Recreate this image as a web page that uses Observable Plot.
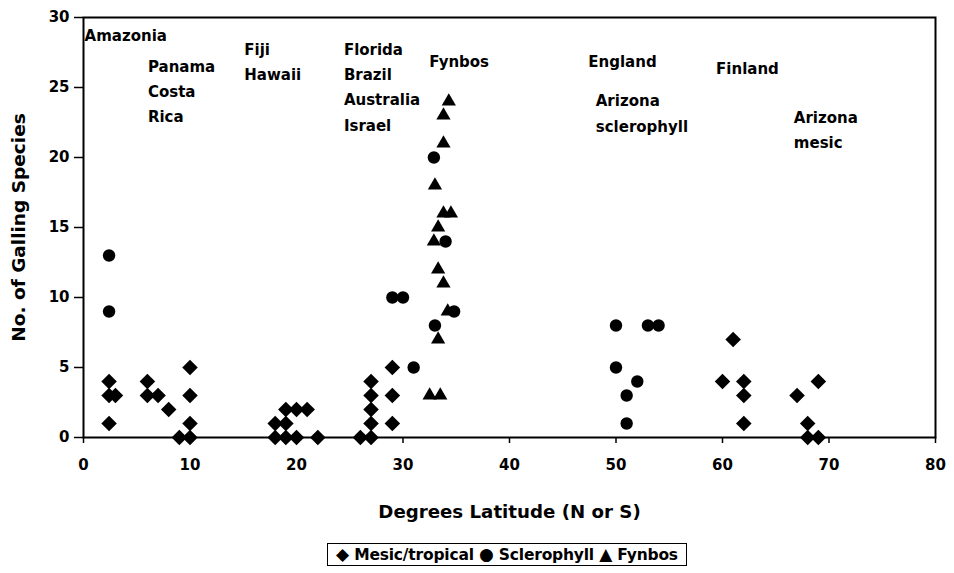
<!DOCTYPE html>
<html>
<head>
<meta charset="utf-8">
<script src="https://cdn.jsdelivr.net/npm/d3@7"></script>
<script src="https://cdn.jsdelivr.net/npm/@observablehq/plot@0.6"></script>
<style>
  body { margin: 0; background: #fff; }
  #legend {
    box-sizing: border-box;
    width: 360px; height: 23px; margin: 13px 0 0 327px;
    border: 1px solid #000; text-align: center; line-height: 21px;
    font: bold 15.5px "DejaVu Sans", sans-serif; color: #000; white-space: nowrap;
    letter-spacing: -0.2px;
  }
  #legend .sym { font-size: 17px; }
</style>
</head>
<body>
<div id="chart"></div>
<div id="legend"></div>
<script>
// Mesic/tropical (diamonds)
const mesicLat = [2.4,2.4,3,2.4,6,6,7,8,9,10,10,10,10,18,19,19,20,21,18,19,20,22,26,27,27,27,27,27,29,29,29,61,60,62,62,62,67,69,68,68,69];
const mesicN   = [4,3,3,1,4,3,3,2,0,0,5,3,1,1,1,2,2,2,0,0,0,0,0,0,1,2,3,4,5,3,1,7,4,4,3,1,3,4,1,0,0];
// Sclerophyll (circles)
const sclLat = [2.4,2.4,29,30,31,33,34.8,32.9,34,50,53,54,50,52,51,51];
const sclN   = [13,9,10,10,5,8,9,20,14,8,8,8,5,4,3,1];
// Fynbos (triangles)
const fynLat = [34.3,33.8,33.8,33,33.8,34.5,33.3,32.9,33.3,33.8,34.2,33.3,32.5,33.5];
const fynN   = [24,23,21,18,16,16,15,14,12,11,9,7,3,3];
// Region annotations (one entry per text line)
const labelText = ["Amazonia","Panama","Costa","Rica","Fiji","Hawaii","Florida","Brazil","Australia","Israel","Fynbos","England","Arizona","sclerophyll","Finland","Arizona","mesic"];
const labelLat  = [0.1,6.05,6.05,6.05,15.1,15.1,24.45,24.45,24.45,24.45,32.46,47.4,48.1,48.1,59.4,66.7,66.7];
const labelN    = [28.7,26.43,24.64,22.86,27.67,25.9,27.7,25.9,24.1,22.26,26.8,26.8,24.05,22.2,26.3,22.8,21.0];
// Axes
const xTicks = [0,10,20,30,40,50,60,70,80];
const yTicks = [0,5,10,15,20,25,30];
const xTitle = "Degrees Latitude (N or S)";
const yTitle = "No. of Galling Species";
const legendSymbols = ["◆","●","▲"];
const legendNames = ["Mesic/tropical","Sclerophyll","Fynbos"];

const toRows = (xs, ys) => xs.map((x, i) => ({x, y: ys[i]}));
const mesic = toRows(mesicLat, mesicN);
const scl = toRows(sclLat, sclN);
const fyn = toRows(fynLat, fynN);
const labels = labelText.map((t, i) => ({t, x: labelLat[i], y: labelN[i]}));

const chart = Plot.plot({
  width: 954,
  height: 530,
  marginLeft: 83,
  marginRight: 19,
  marginTop: 17,
  marginBottom: 93,
  style: {fontFamily: "DejaVu Sans, sans-serif", fontSize: "15px", fontWeight: "bold", color: "#000", background: "#fff"},
  x: {domain: [0, 80]},
  y: {domain: [0, 30]},
  marks: [
    Plot.frame({stroke: "#000", strokeWidth: 2}),
    Plot.axisX({ticks: xTicks, tickSize: 6, tickPadding: 16, label: null, stroke: "#000", strokeWidth: 1.5}),
    Plot.axisY({ticks: yTicks, tickSize: 9, tickPadding: 5, label: null, stroke: "#000", strokeWidth: 1.5}),
    Plot.text([xTitle], {frameAnchor: "bottom", textAnchor: "middle", lineAnchor: "middle", dy: 75, fontSize: 18.2, fontWeight: "bold", fill: "#000"}),
    Plot.text([yTitle], {frameAnchor: "left", textAnchor: "middle", lineAnchor: "middle", dx: -64, rotate: -90, fontSize: 18.5, fontWeight: "bold", fill: "#000"}),
    Plot.dot(mesic, {x: "x", y: "y", symbol: "diamond2", r: 7, fill: "#000", stroke: "none"}),
    Plot.dot(scl, {x: "x", y: "y", symbol: "circle", r: 6.2, fill: "#000", stroke: "none"}),
    Plot.dot(fyn, {x: "x", y: "y", symbol: "triangle2", r: 6.8, fill: "#000", stroke: "none"}),
    Plot.text(labels, {x: "x", y: "y", text: "t", textAnchor: "start", fontSize: 15, fontWeight: "bold", fill: "#000"})
  ]
});
document.getElementById("chart").appendChild(chart);
const legend = document.getElementById("legend");
legendSymbols.forEach((s, i) => {
  const sym = document.createElement("span");
  sym.className = "sym";
  sym.textContent = s;
  legend.appendChild(sym);
  legend.appendChild(document.createTextNode(" " + legendNames[i] + (i < legendSymbols.length - 1 ? " " : "")));
});
</script>
</body>
</html>
